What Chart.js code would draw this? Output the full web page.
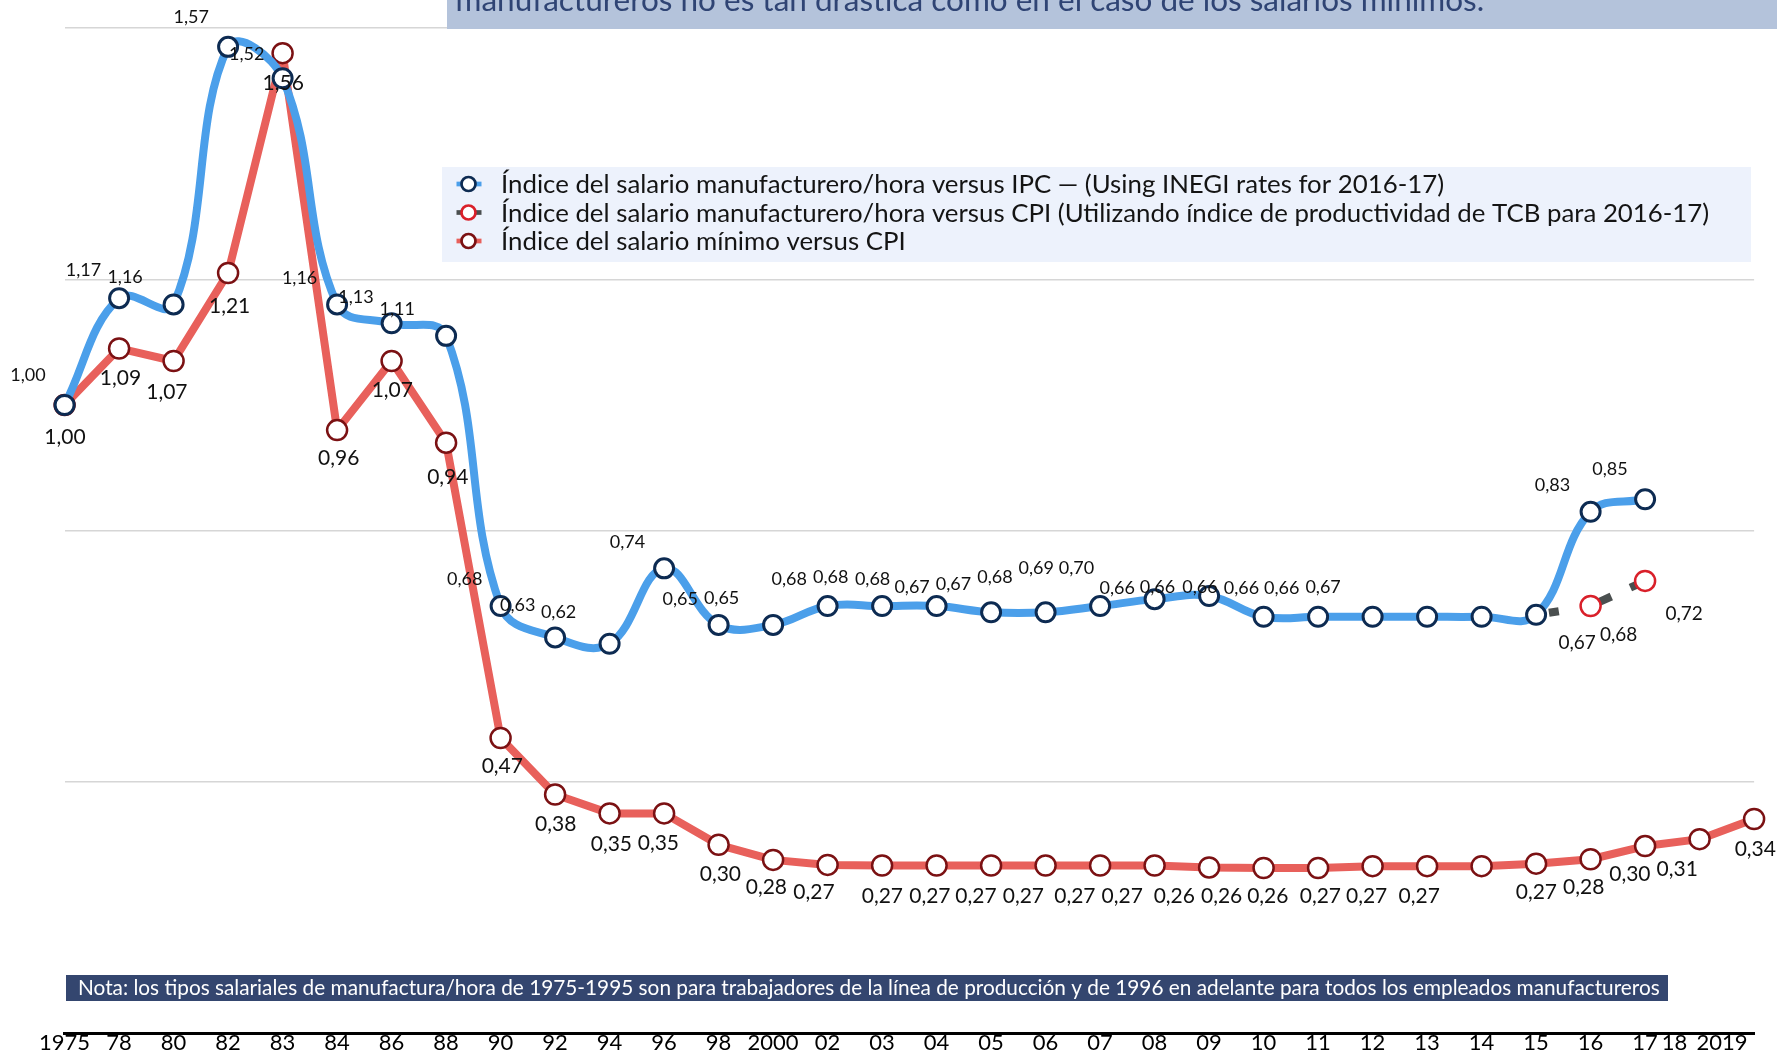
<!DOCTYPE html>
<html>
<head>
<meta charset="utf-8">
<script src="https://cdn.jsdelivr.net/npm/chart.js@4.4.1/dist/chart.umd.min.js"></script>
<style>
html,body{margin:0;padding:0;background:#ffffff;}
#wrap{position:relative;width:1777px;height:1054px;}
</style>
</head>
<body>
<div id="wrap"><canvas id="c"></canvas></div>
<script>
// ---------- DATA ----------
const years = ['1975','78','80','82','83','84','86','88','90','92','94','96','98','2000','02','03','04','05','06','07','08','09','10','11','12','13','14','15','16','17','18','2019'];

const manufIPC = [1.00,1.17,1.16,1.57,1.52,1.16,1.13,1.11,0.68,0.63,0.62,0.74,0.65,0.65,0.68,0.68,0.68,0.67,0.67,0.68,0.691,0.696,0.663,0.663,0.663,0.663,0.663,0.666,0.83,0.85,null,null];

const manufTCB = [null,null,null,null,null,null,null,null,null,null,null,null,null,null,null,null,null,null,null,null,null,null,null,null,null,null,null,0.666,0.68,0.72,null,null];

const minWage = [1.00,1.09,1.07,1.21,1.56,0.96,1.07,0.94,0.47,0.38,0.35,0.35,0.30,0.276,0.268,0.267,0.267,0.267,0.267,0.267,0.267,0.264,0.263,0.263,0.266,0.266,0.266,0.270,0.277,0.298,0.309,0.341];

const seriesNames = [
  'Índice del salario manufacturero/hora versus IPC — (Using INEGI rates for 2016-17)',
  'Índice del salario manufacturero/hora versus CPI (Utilizando índice de productividad de TCB para 2016-17)',
  'Índice del salario mínimo versus CPI'
];

const yTickValues = [0, 0.4, 0.8, 1.2, 1.6];

const titleText = 'manufactureros no es tan drástica como en el caso de los salarios mínimos.';
const noteText = 'Nota: los tipos salariales de manufactura/hora de 1975-1995 son para trabajadores de la línea de producción y de 1996 en adelante para todos los empleados manufactureros';

// ---------- LABEL PLACEMENT (pixel offsets from each point / tick) ----------
const ipcLabelOffsets = [
  [-36.7,-30.2],[-35.7,-28.4],[-48.5,-28],[-36.8,-30.3],[-35.8,-24.4],[-37.5,-27.3],[-35.7,-26.8],[-48.9,-27.1],
  [-35.9,-27.9],[-37.3,-32.7],[-51,-32.4],[-36.7,-26.9],[-38.3,-26.8],[-51.5,-27.8],[-38.3,-27.9],[-51.4,-29.9],
  [-64,-27.9],[-79,-26.2],[-92.1,-28.6],[-105.2,-29.9],[-118.3,-31.2],[-132.6,-28.3],[-146.3,-29.6],[-160.6,-30.6],
  [-172.6,-30.6],[-185.6,-29.6],[-199.9,-29.6],[-213,-28.8],[-38.1,-27],[-35.2,-30.5]
];
const tcbLabelOffsets = {27:[41,27.5], 28:[28,28], 29:[39,32]};
const minLabelOffsets = [
  [0.4,31],[1.4,28.8],[-6.7,30.2],[1.5,32.5],[0.6,29.2],[1.6,27.1],[0.7,28.8],[1.7,33.8],
  [1.7,27.4],[0.6,29.1],[1.8,30.3],[-5.7,28.7],[1.8,28.8],[-6.7,26.8],[-13.6,26.8],[0.3,29.5],
  [-6.7,29.5],[-15.1,29.5],[-22.2,29.5],[-25.2,29.5],[-32.4,29.5],[-34.8,27.6],[-42,26.9],[-50.3,26.9],
  [-52.2,28.8],[-60.5,28.8],[-62.4,28.8],[0.3,28],[-6.9,27.4],[-15.2,26.9],[-22.4,28.8],[1.2,28.9]
];
const tickShift = {30: -25, 31: -32};

const FONT = "Lato, 'Open Sans', 'DejaVu Sans', sans-serif";

function fmt(v){ return v.toFixed(2).replace('.', ','); }

function fitSize(ctx, text, base, target){
  ctx.font = base + 'px ' + FONT;
  const w = ctx.measureText(text).width;
  return base * target / w;
}

function drawValueLabels(ctx, chart, dsIndex, values, offsets, size){
  ctx.font = size + 'px ' + FONT;
  chart.getDatasetMeta(dsIndex).data.forEach((pt, i) => {
    const v = values[i];
    const o = offsets[i];
    if (v == null || !o) return;
    ctx.fillText(fmt(v), pt.x + o[0], pt.y + o[1] + 0.36*size);
  });
}

const decorPlugin = {
  id: 'decor',
  afterDatasetsDraw(chart){
    const ctx = chart.ctx;
    ctx.save();
    ctx.textAlign = 'center';
    ctx.textBaseline = 'alphabetic';
    ctx.fillStyle = '#111';
    drawValueLabels(ctx, chart, 0, manufIPC, ipcLabelOffsets, 18);
    drawValueLabels(ctx, chart, 1, manufTCB, tcbLabelOffsets, 19);
    drawValueLabels(ctx, chart, 2, minWage, minLabelOffsets, 21);
    // x tick labels
    const xs = chart.scales.x;
    ctx.font = '22px ' + FONT;
    ctx.fillStyle = '#000';
    years.forEach((lab, i) => {
      ctx.fillText(lab, xs.getPixelForValue(i) + (tickShift[i] || 0), xs.top + 16.8);
    });
    ctx.restore();
  },
  afterDraw(chart){
    const ctx = chart.ctx;
    ctx.save();
    // legend box
    const lx = 442, ly = 167, lw = 1309, lh = 95;
    ctx.fillStyle = '#edf2fc';
    ctx.fillRect(lx, ly, lw, lh);
    const rowY = [184, 212.5, 241];
    const lsize = fitSize(ctx, seriesNames[1], 24, 1209);
    ctx.font = lsize + 'px ' + FONT;
    ctx.textAlign = 'left';
    ctx.textBaseline = 'alphabetic';
    chart.data.datasets.forEach((ds, i) => {
      const y = rowY[i];
      ctx.strokeStyle = ds.borderColor;
      ctx.lineWidth = 4.7;
      ctx.setLineDash([]);
      ctx.beginPath(); ctx.moveTo(456.5, y); ctx.lineTo(481.5, y); ctx.stroke();
      ctx.beginPath(); ctx.arc(468.5, y, 7, 0, Math.PI*2);
      ctx.fillStyle = '#ffffff'; ctx.fill();
      ctx.lineWidth = 2.7; ctx.strokeStyle = ds.pointBorderColor; ctx.stroke();
      ctx.fillStyle = '#141414';
      ctx.fillText(seriesNames[i], 501, y + 0.36*lsize);
    });
    // note box
    ctx.fillStyle = '#34466f';
    ctx.fillRect(66, 975, 1602, 26);
    const nsize = fitSize(ctx, noteText, 20, 1583);
    ctx.font = nsize + 'px ' + FONT;
    ctx.fillStyle = '#ffffff';
    ctx.fillText(noteText, 78, 988 + 0.36*nsize);
    // title box (cropped at top)
    ctx.fillStyle = '#b4c3db';
    ctx.fillRect(447, 0, 1330, 29);
    const tsize = fitSize(ctx, titleText, 28, 1029);
    ctx.font = tsize + 'px ' + FONT;
    ctx.fillStyle = '#2f4474';
    ctx.fillText(titleText, 455.5, 11);
    ctx.restore();
  }
};

const chart = new Chart(document.getElementById('c'), {
  type: 'line',
  data: {
    labels: years,
    datasets: [
      {
        label: seriesNames[0],
        data: manufIPC,
        borderColor: '#4b9fea',
        borderWidth: 8,
        tension: 0.4,
        pointRadius: 9.5,
        pointBorderWidth: 3,
        pointBorderColor: '#0d2b52',
        pointBackgroundColor: '#ffffff',
        fill: false
      },
      {
        label: seriesNames[1],
        data: manufTCB,
        borderColor: '#4a4f4f',
        borderWidth: 8,
        tension: 0,
        borderDash: [0, 13, 10, 42, 13, 21, 11, 600],
        pointRadius: manufTCB.map((v, i) => i === 27 ? 0 : 10),
        pointBorderWidth: 2.5,
        pointBorderColor: '#d9202a',
        pointBackgroundColor: '#ffffff',
        fill: false
      },
      {
        label: seriesNames[2],
        data: minWage,
        borderColor: '#e8605b',
        borderWidth: 8,
        borderJoinStyle: 'round',
        tension: 0,
        pointRadius: 10,
        pointBorderWidth: 2.5,
        pointBorderColor: '#7b1113',
        pointBackgroundColor: '#ffffff',
        fill: false
      }
    ]
  },
  options: {
    responsive: true,
    maintainAspectRatio: false,
    animation: false,
    events: [],
    layout: { padding: { left: 64.6, right: 22.9, top: 28, bottom: 0 } },
    plugins: { legend: { display: false }, tooltip: { enabled: false }, title: { display: false } },
    scales: {
      x: {
        type: 'category',
        offset: false,
        grid: { display: false, drawTicks: false },
        border: { display: true, color: '#000000', width: 3 },
        ticks: { display: false, autoSkip: false },
        afterFit(s){ s.height = 20.7; s.paddingLeft = 0; s.paddingRight = 0; }
      },
      y: {
        min: 0, max: 1.6,
        afterBuildTicks(s){ s.ticks = yTickValues.map(v => ({ value: v })); },
        ticks: { display: false },
        grid: { color: c => (c.tick && c.tick.value === 0) ? 'rgba(0,0,0,0)' : '#d6d6d6', lineWidth: 1.6, drawTicks: false },
        border: { display: false },
        afterFit(s){ s.width = 0; }
      }
    }
  },
  plugins: [decorPlugin]
});
</script>
</body>
</html>
